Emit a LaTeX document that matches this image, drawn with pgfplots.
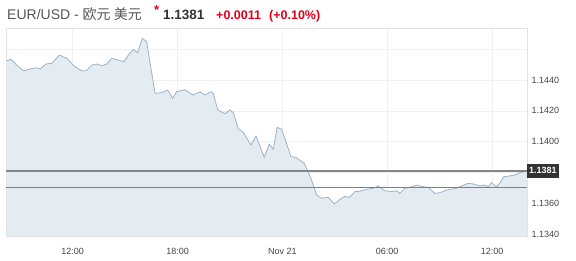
\documentclass[border=0pt]{standalone}
\usepackage{pgfplots}
\pgfplotsset{compat=1.18}
\usepackage{pgfplotstable}
\usepackage{fontspec}
\setmainfont{Liberation Sans}
\newfontfamily\cjk{Noto Sans CJK SC}
\definecolor{fillblue}{HTML}{E4ECF2}
\definecolor{lineblue}{HTML}{9DB2C5}
\definecolor{gridc}{HTML}{EEF0F2}
\definecolor{framec}{HTML}{E0E2E4}
\definecolor{refgray}{HTML}{858585}
\definecolor{closered}{RGB}{230,80,105}
\definecolor{txtgray}{HTML}{444444}
\definecolor{hdrgray}{HTML}{555555}
\definecolor{upred}{HTML}{E3001B}
\definecolor{tagbg}{HTML}{333333}

\pgfplotstableread{
h v
8.22 1.14525
8.47 1.14534
8.80 1.14497
9.17 1.14460
9.56 1.14471
9.90 1.14480
10.13 1.14471
10.47 1.14504
10.80 1.14508
11.23 1.14562
11.66 1.14541
12.07 1.14491
12.51 1.14460
12.76 1.14460
13.09 1.14497
13.37 1.14504
13.66 1.14493
13.95 1.14504
14.23 1.14541
14.61 1.14530
14.93 1.14519
15.18 1.14562
15.47 1.14599
15.72 1.14577
15.98 1.14671
16.23 1.14649
16.71 1.14314
17.09 1.14318
17.43 1.14335
17.72 1.14281
17.95 1.14325
18.42 1.14337
18.90 1.14303
19.28 1.14324
19.57 1.14303
19.91 1.14324
20.04 1.14314
20.30 1.14205
20.71 1.14182
21.00 1.14205
21.19 1.14188
21.47 1.14086
21.76 1.14060
22.20 1.13978
22.49 1.14036
22.96 1.13898
23.25 1.13984
23.48 1.13950
23.70 1.14093
23.96 1.14080
24.33 1.13956
24.49 1.13902
24.76 1.13898
25.25 1.13859
25.63 1.13762
25.96 1.13653
26.24 1.13632
26.62 1.13638
26.97 1.13595
27.29 1.13625
27.58 1.13644
27.84 1.13638
28.15 1.13675
28.44 1.13678
28.82 1.13690
29.20 1.13697
29.48 1.13712
29.87 1.13681
30.25 1.13675
30.54 1.13681
30.72 1.13664
31.01 1.13697
31.30 1.13703
31.68 1.13718
32.06 1.13707
32.34 1.13703
32.73 1.13664
33.01 1.13668
33.30 1.13681
33.58 1.13690
33.97 1.13697
34.25 1.13712
34.63 1.13729
34.92 1.13725
35.30 1.13712
35.59 1.13718
35.78 1.13707
35.97 1.13733
36.26 1.13707
36.44 1.13729
36.67 1.13772
37.02 1.13777
37.30 1.13783
37.59 1.13798
38.00 1.13810
}\eurusd

\begin{document}
\begin{tikzpicture}
\begin{axis}[
  scale only axis, width=521pt, height=208pt,
  xmin=8.18, xmax=38, ymin=1.13387, ymax=1.14738,
  axis line style={framec, line width=0.6pt},
  xtick={12,18,24,30,36},
  xticklabels={12:00,18:00,Nov 21,06:00,12:00},
  ytick={1.134,1.136,1.138,1.140,1.142,1.144,1.146},
  yticklabels={1.1340,1.1360,,1.1400,1.1420,1.1440,},
  yticklabel pos=right,
  major tick length=0pt,
  tick style={draw=none},
  grid=major,
  major grid style={gridc, line width=0.6pt},
  xticklabel style={font=\fontsize{9}{10}\selectfont, text=txtgray, yshift=-9pt},
  yticklabel style={font=\fontsize{9}{10}\selectfont, text=txtgray, anchor=west, xshift=1pt},
]
\addplot[fill=fillblue, draw=none] table[x=h, y=v] {\eurusd} \closedcycle;
\addplot[lineblue, line width=0.8pt] table[x=h, y=v] {\eurusd};
\addplot[draw=refgray, line width=1.4pt] coordinates {(8.18,1.1381) (38,1.1381)};
\addplot[draw=closered, line width=1.2pt, mark=none] coordinates {(8.18,1.1370) (38,1.1370)};
\coordinate (tag) at (axis cs:38,1.1381);
\coordinate (SW) at (rel axis cs:0,0);
\coordinate (NW) at (rel axis cs:0,1);
\coordinate (NE) at (rel axis cs:1,1);
\end{axis}
\node[fill=tagbg, text=white, font=\bfseries\fontsize{9}{10}\selectfont, anchor=west, inner sep=2pt, minimum height=14pt] at (tag) {1.1381};
\node[anchor=base west, inner sep=0pt, font=\fontsize{14}{15}\selectfont, text=hdrgray] at ([shift={(1pt,8pt)}]NW) {EUR/USD - {\cjk 欧元 美元}};
\node[anchor=base west, inner sep=0pt, font=\bfseries\fontsize{13}{15}\selectfont, text=upred] at ([shift={(148pt,13pt)}]NW) {*};
\node[anchor=base west, inner sep=0pt, font=\bfseries\fontsize{13.5}{15}\selectfont, text=tagbg] at ([shift={(157pt,8pt)}]NW) {1.1381};
\node[anchor=base west, inner sep=0pt, font=\bfseries\fontsize{12.5}{15}\selectfont, text=upred] at ([shift={(210pt,8pt)}]NW) {+0.0011};
\node[anchor=base west, inner sep=0pt, font=\bfseries\fontsize{12.5}{15}\selectfont, text=upred] at ([shift={(263pt,8pt)}]NW) {(+0.10\%)};
\pgfresetboundingbox
\path[use as bounding box] ([shift={(-6pt,-25pt)}]SW) rectangle ([shift={(49pt,28pt)}]NE);
\end{tikzpicture}
\end{document}
